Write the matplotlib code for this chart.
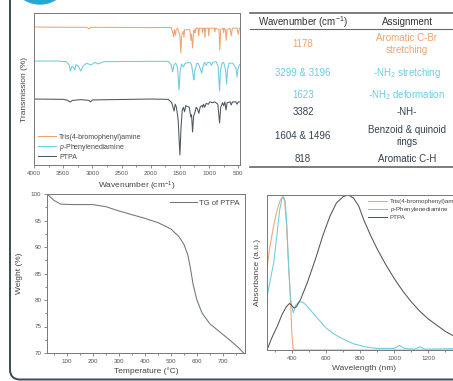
import numpy as np
import matplotlib as mpl
import matplotlib.pyplot as plt
from matplotlib.lines import Line2D
from matplotlib.patches import FancyBboxPatch, Circle
from matplotlib.ticker import MultipleLocator

mpl.use('Agg')

plt.rcParams['font.family'] = ['Liberation Sans', 'DejaVu Sans']
plt.rcParams['mathtext.fontset'] = 'custom'
plt.rcParams['mathtext.rm'] = 'Liberation Sans'
plt.rcParams['mathtext.it'] = 'Liberation Sans:italic'

C_ORANGE = '#f0a36e'
C_BLUE = '#6ccbe0'
C_DARK = '#4d555f'
C_TEXT = '#34424f'
C_AXIS = '#777777'

# ---- FTIR (wavenumber, transmission offset) ----
ftir_tris = [(4000, 90.8), (3500, 90.6), (3100, 90.6), (3050, 89.5), (3030, 90.6), (2000, 90.4),
             (1650, 90.5), (1615, 86), (1606, 84.4), (1595, 89), (1575, 85.5), (1565, 89), (1540, 90),
             (1500, 85), (1484, 73.7), (1470, 85), (1440, 88), (1430, 84), (1420, 89), (1330, 89),
             (1310, 82), (1300, 86), (1283, 77), (1265, 88), (1250, 89), (1240, 87), (1230, 90),
             (1190, 90), (1178, 85), (1165, 90), (1120, 90), (1110, 87), (1100, 90), (1080, 90),
             (1070, 84), (1060, 90), (1015, 90), (1006, 85), (995, 90), (910, 90), (900, 87.5),
             (890, 90), (830, 89), (816, 75.7), (800, 89), (760, 90), (750, 87), (740, 90), (720, 89),
             (707, 82), (695, 89), (640, 90), (620, 85), (600, 90), (520, 90), (500, 86), (480, 90),
             (450, 90)]

ftir_ppd = [(4000, 68.4), (3600, 68.4), (3450, 68), (3400, 66), (3375, 61.8), (3350, 65), (3320, 64),
            (3305, 62.5), (3280, 66), (3240, 65), (3200, 61.8), (3160, 65), (3100, 67), (3020, 65.8),
            (2960, 67.5), (2900, 66.5), (2800, 68), (2000, 68.2), (1700, 68.2), (1650, 66),
            (1625, 61.2), (1600, 66), (1570, 67), (1540, 64), (1515, 49.3), (1495, 62), (1470, 66.5),
            (1440, 64.5), (1410, 67), (1330, 67.5), (1300, 66), (1270, 58), (1260, 55.9), (1245, 62),
            (1210, 67), (1180, 66.5), (1140, 62), (1125, 60.5), (1110, 64), (1080, 67.5), (1050, 65.5),
            (1030, 67.5), (980, 67.5), (960, 65.5), (940, 67.5), (880, 68), (845, 65), (820, 48.7),
            (805, 62), (780, 67), (750, 67.5), (715, 62), (700, 53.3), (685, 62), (660, 67), (600, 67),
            (540, 64), (520, 58), (505, 63), (480, 66), (450, 66)]

ftir_ptpa = [(4000, 43.4), (3500, 43.2), (3420, 42.5), (3380, 41.4), (3340, 42.5), (3200, 43),
             (3060, 42.5), (3030, 41.5), (3000, 42.8), (2000, 43.4), (1700, 43.2), (1640, 41),
             (1600, 35.5), (1580, 40), (1560, 38), (1530, 30), (1500, 6.6), (1480, 25), (1460, 36),
             (1440, 38), (1420, 35), (1400, 39), (1340, 38), (1313, 31.6), (1300, 33), (1283, 21.7),
             (1265, 32), (1240, 35), (1220, 38), (1200, 37), (1175, 34), (1150, 38.5), (1120, 39),
             (1110, 38), (1095, 40), (1075, 38), (1050, 40.5), (1010, 40), (990, 41.5), (940, 41),
             (900, 41.5), (850, 40), (820, 27.6), (800, 38), (770, 41), (750, 39), (730, 41.5),
             (710, 36.2), (690, 41), (640, 41.5), (620, 39.5), (600, 41.5), (540, 41.5), (520, 40),
             (500, 41.5), (450, 41.5)]

ftir_labels = ['Tris(4-bromophenyl)amine', '$p$-Phenylenediamine', 'PTPA']

# ---- TGA ----
tga_temp = [23, 50, 75, 120, 200, 250, 300, 350, 400, 450, 500, 530, 550, 565, 575, 585, 600, 620,
            650, 700, 730, 760, 780]
tga_weight = [100, 98.8, 98.1, 98.0, 98.0, 97.6, 96.8, 96.1, 95.4, 94.6, 93.4, 92, 90.5, 88.5, 86,
              83, 80, 77.5, 75.5, 73.5, 72.3, 71, 70]

# ---- UV-Vis ----
uv_tris_nm = [251, 270, 290, 310, 330, 345, 355, 365, 375, 388, 398, 405, 410, 1400]
uv_tris_abs = [0.53, 0.68, 0.80, 0.90, 0.97, 0.99, 0.96, 0.82, 0.6, 0.35, 0.09, 0.01, 0, 0]

uv_ppd_nm = [251, 270, 290, 310, 325, 340, 348, 358, 368, 378, 388, 398, 406, 412, 420, 440, 460,
             490, 520, 560, 600, 650, 700, 760, 830, 900, 1000, 1030, 1060, 1120, 1150, 1180, 1400]
uv_ppd_abs = [0.34, 0.45, 0.56, 0.75, 0.9, 0.98, 0.99, 0.96, 0.8, 0.55, 0.35, 0.27, 0.24, 0.26,
              0.29, 0.31, 0.31, 0.28, 0.24, 0.19, 0.14, 0.1, 0.07, 0.04, 0.02, 0.01, 0.01, 0.03,
              0.01, 0.005, 0.02, 0.005, 0.01]

uv_ptpa_nm = [251, 280, 310, 340, 365, 383, 395, 410, 425, 450, 490, 540, 580, 620, 660, 700, 730,
              760, 790, 820, 860, 900, 950, 1000, 1050, 1100, 1150, 1200, 1250, 1300, 1350, 1400]
uv_ptpa_abs = [0.0, 0.08, 0.15, 0.23, 0.28, 0.30, 0.29, 0.27, 0.28, 0.33, 0.44, 0.6, 0.74, 0.86,
               0.95, 0.99, 1.0, 0.98, 0.93, 0.84, 0.74, 0.65, 0.55, 0.46, 0.38, 0.31, 0.25, 0.2,
               0.16, 0.12, 0.09, 0.07]

# ---- table ----
tab_wn = ['1178', '3299 & 3196', '1623', '3382', '1604 & 1496', '818']
tab_assign = ['Aromatic C-Br\nstretching', '-NH$_2$ stretching', '-NH$_2$ deformation', '-NH-',
              'Benzoid & quinoid\nrings', 'Aromatic C-H']
tab_colors = [C_ORANGE, C_BLUE, C_BLUE, C_TEXT, C_TEXT, C_TEXT]
tab_rows_py = [44, 73, 95, 112, 136, 159]

W, H = 453, 381
fig = plt.figure(figsize=(W / 100, H / 100), dpi=100)


def frac(x0, y0, x1, y1):
    # pixel box (top-left origin) -> figure fraction rect
    return [x0 / W, 1 - y1 / H, (x1 - x0) / W, (y1 - y0) / H]


def style_axes(ax):
    for s in ax.spines.values():
        s.set_color(C_AXIS)
        s.set_linewidth(0.7)
    ax.tick_params(which='both', direction='out', colors=C_AXIS, labelcolor='#555555',
                   labelsize=4.5, width=0.6, pad=1.5)
    ax.tick_params(which='major', length=2.5)
    ax.tick_params(which='minor', length=1.5)


# FTIR
ax1 = fig.add_axes(frac(34, 13, 240, 165))
for data, col, lab in zip([ftir_tris, ftir_ppd, ftir_ptpa], [C_ORANGE, C_BLUE, C_DARK], ftir_labels):
    arr = np.array(data).T
    ax1.plot(arr[0], arr[1], color=col, lw=0.75, label=lab)
ax1.set_xlim(4000, 470)
ax1.set_ylim(0, 100)
ax1.set_yticks([])
ax1.set_xticks([4000, 3500, 3000, 2500, 2000, 1500, 1000, 500])
ax1.xaxis.set_minor_locator(MultipleLocator(250))
style_axes(ax1)
ax1.set_xlabel('Wavenumber (cm$^{-1}$)', fontsize=6, color='#444444', labelpad=3)
ax1.set_ylabel('Transmission (%)', fontsize=6, color='#444444', labelpad=4)
ax1.legend(loc='lower left', frameon=False, fontsize=5, handlelength=2.6, handletextpad=0.4,
           labelspacing=0.15, borderaxespad=0.2, labelcolor='#444444')

# TGA
ax2 = fig.add_axes(frac(47, 194, 245, 353))
ax2.plot(tga_temp, tga_weight, color='#6b7480', lw=0.75, label='TG of PTPA')
ax2.set_xlim(23, 785)
ax2.set_ylim(70, 100)
ax2.set_xticks([100, 200, 300, 400, 500, 600, 700])
ax2.xaxis.set_minor_locator(MultipleLocator(50))
ax2.set_yticks([70, 75, 80, 85, 90, 95, 100])
ax2.yaxis.set_minor_locator(MultipleLocator(2.5))
style_axes(ax2)
ax2.set_xlabel('Temperature (°C)', fontsize=6, color='#444444', labelpad=3)
ax2.set_ylabel('Weight (%)', fontsize=6, color='#444444', labelpad=6)
ax2.legend(loc='upper right', frameon=False, fontsize=5.5, handlelength=3.5, handletextpad=0.3,
           borderaxespad=0.3, labelcolor='#444444')

# UV-Vis (runs off the right edge, as in the source figure)
ax3 = fig.add_axes(frac(267, 195, 462, 350))
ax3.plot(uv_tris_nm, uv_tris_abs, color=C_ORANGE, lw=0.75, label='Tris(4-bromophenyl)amine')
ax3.plot(uv_ppd_nm, uv_ppd_abs, color=C_BLUE, lw=0.75, label='$p$-Phenylenediamine')
ax3.plot(uv_ptpa_nm, uv_ptpa_abs, color=C_DARK, lw=0.75, label='PTPA')
ax3.set_xlim(251, 251 + 195 / 0.17)
ax3.set_ylim(0, 1.0)
ax3.set_yticks([])
ax3.set_xticks([400, 600, 800, 1000, 1200])
ax3.xaxis.set_minor_locator(MultipleLocator(100))
style_axes(ax3)
ax3.set_xlabel('Wavelength (nm)', fontsize=6, color='#444444', labelpad=3)
ax3.set_ylabel('Absorbance (a.u.)', fontsize=6, color='#444444', labelpad=4)
ax3.legend(loc='upper left', bbox_to_anchor=(0.5, 1.0), frameon=False, fontsize=4.5,
           handlelength=3, handletextpad=0.4, labelspacing=0.1, borderaxespad=0.2,
           labelcolor='#444444')

# table
x_left, x_right = 250, 453
x_c1, x_c2 = 303, 407
for py, lw in [(13, 1.2), (29, 0.8), (167, 1.2)]:
    fig.add_artist(Line2D([x_left / W, x_right / W], [1 - py / H, 1 - py / H],
                          color='#666666', lw=lw))
fig.text(x_c1 / W, 1 - 22 / H, 'Wavenumber (cm$^{-1}$)', ha='center', va='center',
         fontsize=7, color='#333333')
fig.text(x_c2 / W, 1 - 22 / H, 'Assignment', ha='center', va='center', fontsize=7,
         color='#333333')
for wn, asg, col, py in zip(tab_wn, tab_assign, tab_colors, tab_rows_py):
    fig.text(x_c1 / W, 1 - py / H, wn, ha='center', va='center', fontsize=7, color=col)
    fig.text(x_c2 / W, 1 - py / H, asg, ha='center', va='center', fontsize=7, color=col,
             linespacing=1.15)

# frame and badge
frame = FancyBboxPatch((0.10, 0.015), 4.8, 4.2, boxstyle='round,pad=0,rounding_size=0.1',
                       transform=fig.dpi_scale_trans, fill=False, ec='#3a4858', lw=1.4)
fig.add_artist(frame)
badge = Circle((0.40, (H + 26) / 100), 0.30, transform=fig.dpi_scale_trans, color='#27a6d6')
fig.add_artist(badge)

fig.savefig('out.png', dpi=100)
